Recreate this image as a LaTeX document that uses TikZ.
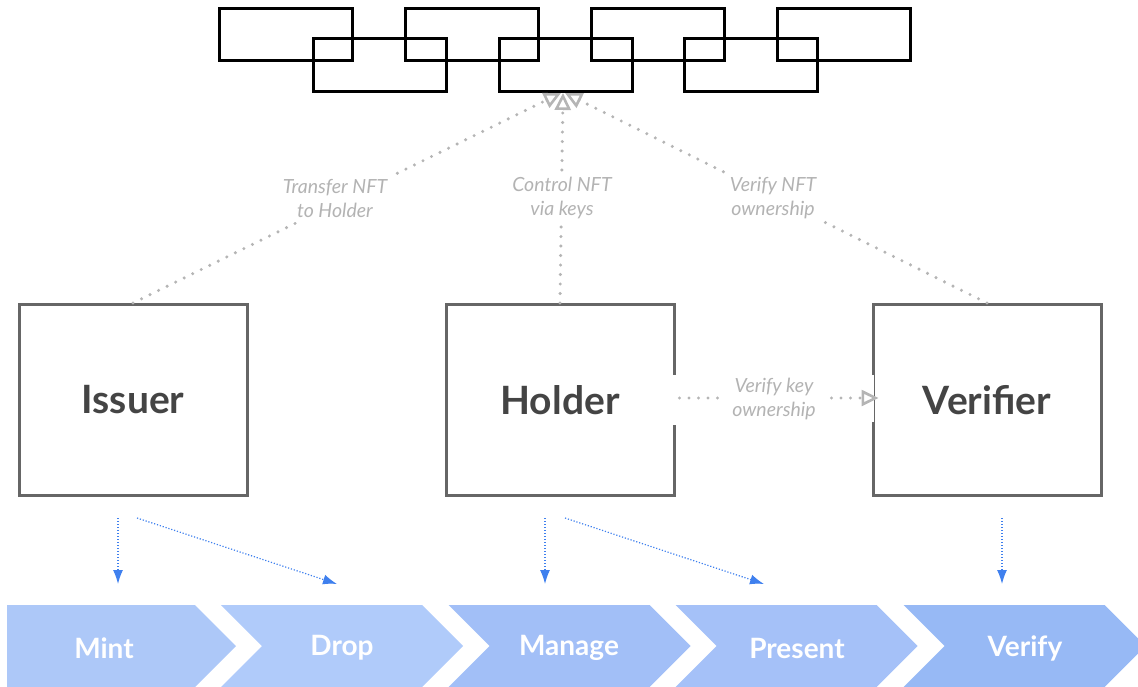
\documentclass[tikz,border=0pt]{standalone}
\usepackage{fontspec}
\setmainfont{Lato}
\usetikzlibrary{arrows.meta,calc}
\definecolor{boxgray}{HTML}{666666}
\definecolor{txtdark}{HTML}{444444}
\definecolor{lblgray}{HTML}{B3B3B3}
\definecolor{dotgray}{HTML}{B5B5B5}
\definecolor{arrblue}{HTML}{3F80EE}
\definecolor{chA}{RGB}{173,200,248}
\definecolor{chB}{RGB}{176,203,250}
\definecolor{chC}{RGB}{162,191,247}
\definecolor{chD}{RGB}{165,193,248}
\definecolor{chE}{RGB}{151,185,245}
\tikzset{
  role/.style={draw=boxgray, line width=3pt, minimum width=228pt, minimum height=191pt, inner sep=0pt, font=\fontsize{39}{44}\selectfont\bfseries, text=txtdark},
  lbl/.style={fill=white, align=center, text=lblgray, font=\fontsize{19.5}{24}\selectfont\itshape, inner sep=5pt},
  gline/.style={dotgray, line width=3.4pt, line cap=round, dash pattern=on 0pt off 9.5pt, shorten >=16pt},
  gtip/.style={dotgray, solid, line width=2.4pt, -{Triangle[open, length=17pt, width=16pt, line width=2.6pt]}},
  bline/.style={arrblue, line width=1.2pt, dash pattern=on 1.2pt off 1.8pt, -{Latex[length=14pt, width=10pt]}},
  chain/.style={draw=black, line width=3pt},
  steplbl/.style={text=white, font=\fontsize{28}{32}\selectfont\bfseries},
}
\begin{document}
\begin{tikzpicture}[x=1pt,y=-1pt]
\useasboundingbox (0,0) rectangle (1138,687);
\begin{scope}
\clip (0,0) rectangle (1138,687);
% chain
\foreach \x in {219,405,591,777} { \draw[chain] (\x,9) rectangle ++(133,52); }
\foreach \x in {313,499,684} { \draw[chain] (\x,39) rectangle ++(133,53); }
\coordinate (chainL) at (561,93);
\coordinate (chainM) at (563,93);
\coordinate (chainR) at (565,93);

% role boxes
\node[role] (issuer) at (133,400) {Issuer};
\node[role] (holder) at (560,400) {Holder};
\node[role] (verifier) at (987,400) {Verifier};
% gaps in borders
\draw[white, line width=5pt] ($(holder.east)+(0,-25)$) -- ($(holder.east)+(0,25)$);
\draw[white, line width=5pt] ($(verifier.west)+(0,-25)$) -- ($(verifier.west)+(0,22)$);

% gray dotted arrows to chain
\coordinate (hk) at ($(holder.east)+(4,-2)$);
\coordinate (vk) at ($(verifier.west)+(7,-2)$);
\draw[gline] (issuer.north) -- (chainL);
\draw[gline] (holder.north) -- (chainM);
\draw[gline] (verifier.north) -- (chainR);
\draw[gline] (hk) -- (vk);
\draw[gtip] ($(chainL)!17pt!(issuer.north)$) -- (chainL);
\draw[gtip] ($(chainM)!17pt!(holder.north)$) -- (chainM);
\draw[gtip] ($(chainR)!17pt!(verifier.north)$) -- (chainR);
\draw[gtip] ($(vk)!17pt!(hk)$) -- (vk);
\node[lbl] (l1) at (335,198) {Transfer NFT\\to Holder};
\node[lbl] (l2) at (562,198) {Control NFT\\via keys};
\node[lbl] (l3) at (773,198) {Verify NFT\\ownership};
\node[lbl, inner sep=10pt] (l4) at (774,399) {Verify key\\ownership};

% chevrons
\fill[chA] (7,605) -- (195,605) -- (236,646) -- (195,687) -- (7,687) -- cycle;
\foreach \x/\c in {221/chB,448.5/chC,675.5/chD,903.5/chE} {
  \fill[\c] (\x,605) -- (\x+201,605) -- (\x+242,646) -- (\x+201,687) -- (\x,687) -- (\x+41,646) -- cycle;
}
\node[steplbl] (mint) at (104,648) {Mint};
\node[steplbl] (drop) at (342,648) {Drop};
\node[steplbl] (manage) at (569,648) {Manage};
\node[steplbl] (present) at (797,648) {Present};
\node[steplbl] (verify) at (1025,648) {Verify};

% blue arrows
\coordinate (i1) at (118,518); \coordinate (i1e) at (118,584);
\coordinate (i2) at (137,518); \coordinate (i2e) at (337,584);
\coordinate (h1) at (545,518); \coordinate (h1e) at (545,584);
\coordinate (h2) at (565,518); \coordinate (h2e) at (764,584);
\coordinate (v1) at (1002,518); \coordinate (v1e) at (1002,584);
\draw[bline] (i1) -- (i1e);
\draw[bline] (i2) -- (i2e);
\draw[bline] (h1) -- (h1e);
\draw[bline] (h2) -- (h2e);
\draw[bline] (v1) -- (v1e);
\end{scope}
\end{tikzpicture}
\end{document}
